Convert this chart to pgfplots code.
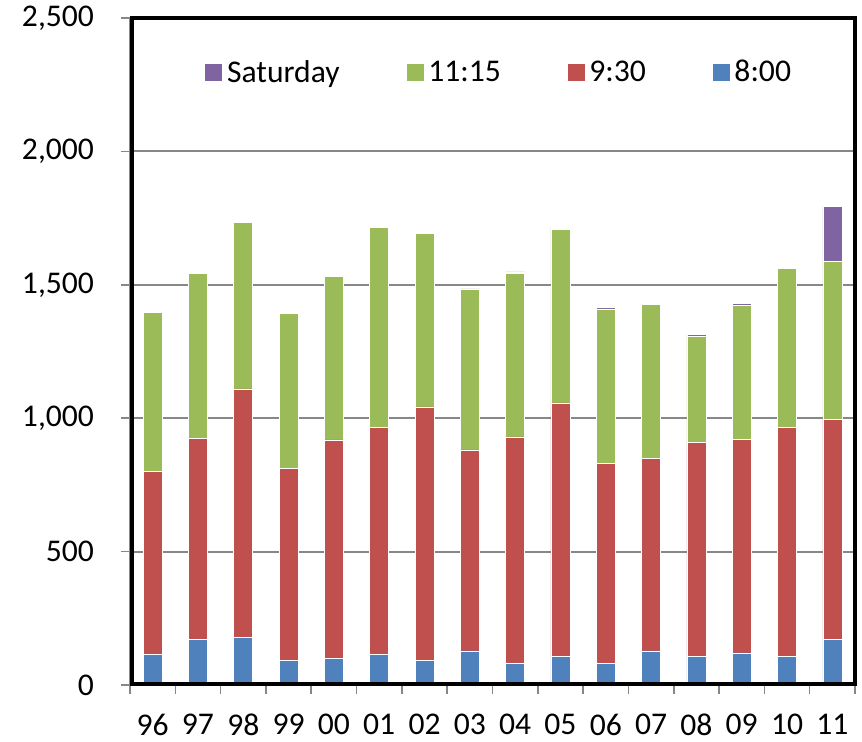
\documentclass[border=0pt]{standalone}
\usepackage{fontspec}
\setmainfont{Carlito}
\usepackage{pgfplots}
\pgfplotsset{compat=1.18}
\definecolor{cblue}{HTML}{4F81BD}
\definecolor{cred}{HTML}{C0504D}
\definecolor{cgreen}{HTML}{9BBB59}
\definecolor{cpurple}{HTML}{8064A2}
\definecolor{gridgray}{HTML}{878787}
\begin{document}
\begin{tikzpicture}
\begin{axis}[
  scale only axis, width=362.5pt, height=333.5pt,
  ybar stacked, bar width=9.5pt,
  xmin=-0.5, xmax=15.5, ymin=0, ymax=2500,
  ytick={0,500,...,2500},
  xtick={-0.5,0.5,...,15.5}, xticklabels={},
  extra x ticks={0,...,15},
  extra x tick labels={96,97,98,99,00,01,02,03,04,05,06,07,08,09,10,11},
  extra x tick style={major tick length=0pt, xticklabel style={yshift=-11pt}},
  yticklabel style={xshift=-10pt},
  xtick pos=bottom, ytick pos=left,
  tick align=outside, major tick length=4.5pt,
  tick style={gridgray, line width=0.8pt},
  ymajorgrids, grid style={draw=gridgray, line width=1pt},
  axis line style={gridgray, line width=0.8pt},
  /pgf/number format/.cd, 1000 sep={,}, assume math mode=true,
  /pgfplots/.cd,
  ticklabel style={font=\fontsize{15.8}{18}\selectfont, text=black},
  reverse legend,
  legend columns=4,
  legend style={draw=none, fill=none, at={(0.51,0.918)}, anchor=center,
    font=\fontsize{15.8}{18}\selectfont, /tikz/every even column/.append style={column sep=31pt}},
  legend image code/.code={\fill[#1] (0pt,-4.5pt) rectangle (9pt,4.5pt);},
]
\addplot[fill=cblue, draw=white, line width=0.3pt] coordinates {
(0,115) (1,170) (2,178) (3,92) (4,100) (5,115) (6,92) (7,128) (8,82) (9,106) (10,82) (11,128) (12,106) (13,120) (14,106) (15,172)};
\addplot[fill=cred, draw=white, line width=0.3pt] coordinates {
(0,685) (1,753) (2,932) (3,720) (4,819) (5,852) (6,950) (7,753) (8,848) (9,951) (10,749) (11,722) (12,802) (13,801) (14,860) (15,825)};
\addplot[fill=cgreen, draw=white, line width=0.3pt] coordinates {
(0,598) (1,620) (2,625) (3,580) (4,611) (5,749) (6,650) (7,602) (8,612) (9,651) (10,579) (11,578) (12,400) (13,501) (14,594) (15,591)};
\addplot[fill=cpurple, draw=white, line width=0.3pt] coordinates {
(0,0) (1,3) (2,0) (3,4) (4,2) (5,0) (6,5) (7,2) (8,6) (9,4) (10,5) (11,3) (12,6) (13,7) (14,5) (15,207)};
\legend{8:00,9:30,11:15,Saturday}
\coordinate (sw) at (rel axis cs:0,0);
\coordinate (ne) at (rel axis cs:1,1);
\end{axis}
\draw[black, line width=2pt] ([shift={(1.1pt,0.4pt)}]sw) rectangle (ne);
\pgfresetboundingbox
\path ([shift={(-65pt,-28pt)}]sw) rectangle ([shift={(3.5pt,9pt)}]ne);
\end{tikzpicture}
\end{document}
